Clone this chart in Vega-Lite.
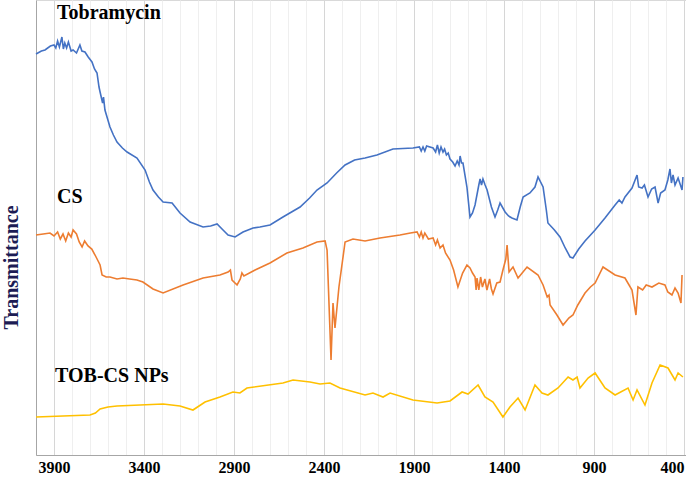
{
  "$schema": "https://vega.github.io/schema/vega-lite/v6.json",
  "width": 650,
  "height": 455,
  "autosize": {"type": "none"},
  "padding": {"left": 36, "top": 0, "right": 0, "bottom": 25},
  "background": "white",
  "config": {"view": {"stroke": "#d9d9d9"}, "font": "Liberation Serif"},
  "resolve": {"axis": {"x": "independent"}},
  "datasets": {
    "spectra": [
      {"s": "Tobramycin", "wn": 4000, "t": 401},
      {"s": "Tobramycin", "wn": 3970, "t": 404},
      {"s": "Tobramycin", "wn": 3950, "t": 405},
      {"s": "Tobramycin", "wn": 3920, "t": 409},
      {"s": "Tobramycin", "wn": 3900, "t": 410},
      {"s": "Tobramycin", "wn": 3890, "t": 407},
      {"s": "Tobramycin", "wn": 3880, "t": 414},
      {"s": "Tobramycin", "wn": 3870, "t": 408},
      {"s": "Tobramycin", "wn": 3856, "t": 418},
      {"s": "Tobramycin", "wn": 3848, "t": 406},
      {"s": "Tobramycin", "wn": 3840, "t": 412},
      {"s": "Tobramycin", "wn": 3830, "t": 407},
      {"s": "Tobramycin", "wn": 3820, "t": 413},
      {"s": "Tobramycin", "wn": 3805, "t": 404},
      {"s": "Tobramycin", "wn": 3794, "t": 405},
      {"s": "Tobramycin", "wn": 3775, "t": 402},
      {"s": "Tobramycin", "wn": 3756, "t": 410},
      {"s": "Tobramycin", "wn": 3745, "t": 404},
      {"s": "Tobramycin", "wn": 3728, "t": 403},
      {"s": "Tobramycin", "wn": 3710, "t": 398},
      {"s": "Tobramycin", "wn": 3689, "t": 393},
      {"s": "Tobramycin", "wn": 3675, "t": 386},
      {"s": "Tobramycin", "wn": 3661, "t": 382},
      {"s": "Tobramycin", "wn": 3650, "t": 368},
      {"s": "Tobramycin", "wn": 3644, "t": 363},
      {"s": "Tobramycin", "wn": 3630, "t": 352},
      {"s": "Tobramycin", "wn": 3625, "t": 358},
      {"s": "Tobramycin", "wn": 3617, "t": 345},
      {"s": "Tobramycin", "wn": 3589, "t": 328},
      {"s": "Tobramycin", "wn": 3570, "t": 320},
      {"s": "Tobramycin", "wn": 3550, "t": 313},
      {"s": "Tobramycin", "wn": 3520, "t": 307},
      {"s": "Tobramycin", "wn": 3494, "t": 303},
      {"s": "Tobramycin", "wn": 3439, "t": 297},
      {"s": "Tobramycin", "wn": 3394, "t": 285},
      {"s": "Tobramycin", "wn": 3370, "t": 273},
      {"s": "Tobramycin", "wn": 3350, "t": 265},
      {"s": "Tobramycin", "wn": 3320, "t": 258},
      {"s": "Tobramycin", "wn": 3294, "t": 253},
      {"s": "Tobramycin", "wn": 3244, "t": 252},
      {"s": "Tobramycin", "wn": 3200, "t": 242},
      {"s": "Tobramycin", "wn": 3144, "t": 233},
      {"s": "Tobramycin", "wn": 3072, "t": 228},
      {"s": "Tobramycin", "wn": 3030, "t": 229},
      {"s": "Tobramycin", "wn": 2994, "t": 231},
      {"s": "Tobramycin", "wn": 2961, "t": 225},
      {"s": "Tobramycin", "wn": 2933, "t": 220},
      {"s": "Tobramycin", "wn": 2894, "t": 218},
      {"s": "Tobramycin", "wn": 2850, "t": 223},
      {"s": "Tobramycin", "wn": 2794, "t": 227},
      {"s": "Tobramycin", "wn": 2756, "t": 228},
      {"s": "Tobramycin", "wn": 2700, "t": 230},
      {"s": "Tobramycin", "wn": 2628, "t": 238},
      {"s": "Tobramycin", "wn": 2533, "t": 248},
      {"s": "Tobramycin", "wn": 2480, "t": 257},
      {"s": "Tobramycin", "wn": 2439, "t": 265},
      {"s": "Tobramycin", "wn": 2383, "t": 272},
      {"s": "Tobramycin", "wn": 2330, "t": 282},
      {"s": "Tobramycin", "wn": 2283, "t": 290},
      {"s": "Tobramycin", "wn": 2230, "t": 295},
      {"s": "Tobramycin", "wn": 2172, "t": 297},
      {"s": "Tobramycin", "wn": 2106, "t": 300},
      {"s": "Tobramycin", "wn": 2017, "t": 306},
      {"s": "Tobramycin", "wn": 1906, "t": 307},
      {"s": "Tobramycin", "wn": 1870, "t": 308},
      {"s": "Tobramycin", "wn": 1860, "t": 304},
      {"s": "Tobramycin", "wn": 1850, "t": 308},
      {"s": "Tobramycin", "wn": 1840, "t": 304},
      {"s": "Tobramycin", "wn": 1830, "t": 309},
      {"s": "Tobramycin", "wn": 1794, "t": 307},
      {"s": "Tobramycin", "wn": 1780, "t": 303},
      {"s": "Tobramycin", "wn": 1770, "t": 310},
      {"s": "Tobramycin", "wn": 1760, "t": 302},
      {"s": "Tobramycin", "wn": 1750, "t": 308},
      {"s": "Tobramycin", "wn": 1739, "t": 303},
      {"s": "Tobramycin", "wn": 1730, "t": 306},
      {"s": "Tobramycin", "wn": 1720, "t": 300},
      {"s": "Tobramycin", "wn": 1710, "t": 302},
      {"s": "Tobramycin", "wn": 1700, "t": 296},
      {"s": "Tobramycin", "wn": 1685, "t": 293},
      {"s": "Tobramycin", "wn": 1672, "t": 289},
      {"s": "Tobramycin", "wn": 1660, "t": 294},
      {"s": "Tobramycin", "wn": 1650, "t": 290},
      {"s": "Tobramycin", "wn": 1644, "t": 299},
      {"s": "Tobramycin", "wn": 1636, "t": 292},
      {"s": "Tobramycin", "wn": 1628, "t": 292},
      {"s": "Tobramycin", "wn": 1606, "t": 268},
      {"s": "Tobramycin", "wn": 1589, "t": 238},
      {"s": "Tobramycin", "wn": 1575, "t": 242},
      {"s": "Tobramycin", "wn": 1561, "t": 250},
      {"s": "Tobramycin", "wn": 1540, "t": 270},
      {"s": "Tobramycin", "wn": 1533, "t": 276},
      {"s": "Tobramycin", "wn": 1525, "t": 270},
      {"s": "Tobramycin", "wn": 1517, "t": 276},
      {"s": "Tobramycin", "wn": 1505, "t": 270},
      {"s": "Tobramycin", "wn": 1494, "t": 265},
      {"s": "Tobramycin", "wn": 1470, "t": 248},
      {"s": "Tobramycin", "wn": 1450, "t": 238},
      {"s": "Tobramycin", "wn": 1435, "t": 245},
      {"s": "Tobramycin", "wn": 1422, "t": 252},
      {"s": "Tobramycin", "wn": 1394, "t": 243},
      {"s": "Tobramycin", "wn": 1375, "t": 239},
      {"s": "Tobramycin", "wn": 1356, "t": 237},
      {"s": "Tobramycin", "wn": 1328, "t": 235},
      {"s": "Tobramycin", "wn": 1310, "t": 248},
      {"s": "Tobramycin", "wn": 1294, "t": 258},
      {"s": "Tobramycin", "wn": 1256, "t": 262},
      {"s": "Tobramycin", "wn": 1228, "t": 268},
      {"s": "Tobramycin", "wn": 1211, "t": 278},
      {"s": "Tobramycin", "wn": 1183, "t": 268},
      {"s": "Tobramycin", "wn": 1165, "t": 245},
      {"s": "Tobramycin", "wn": 1156, "t": 232},
      {"s": "Tobramycin", "wn": 1120, "t": 225},
      {"s": "Tobramycin", "wn": 1089, "t": 218},
      {"s": "Tobramycin", "wn": 1060, "t": 207},
      {"s": "Tobramycin", "wn": 1033, "t": 198},
      {"s": "Tobramycin", "wn": 1017, "t": 197},
      {"s": "Tobramycin", "wn": 985, "t": 206},
      {"s": "Tobramycin", "wn": 950, "t": 214},
      {"s": "Tobramycin", "wn": 894, "t": 225},
      {"s": "Tobramycin", "wn": 839, "t": 237},
      {"s": "Tobramycin", "wn": 783, "t": 250},
      {"s": "Tobramycin", "wn": 760, "t": 255},
      {"s": "Tobramycin", "wn": 745, "t": 252},
      {"s": "Tobramycin", "wn": 728, "t": 258},
      {"s": "Tobramycin", "wn": 689, "t": 267},
      {"s": "Tobramycin", "wn": 661, "t": 280},
      {"s": "Tobramycin", "wn": 652, "t": 268},
      {"s": "Tobramycin", "wn": 633, "t": 267},
      {"s": "Tobramycin", "wn": 620, "t": 270},
      {"s": "Tobramycin", "wn": 600, "t": 258},
      {"s": "Tobramycin", "wn": 580, "t": 266},
      {"s": "Tobramycin", "wn": 561, "t": 268},
      {"s": "Tobramycin", "wn": 544, "t": 252},
      {"s": "Tobramycin", "wn": 530, "t": 262},
      {"s": "Tobramycin", "wn": 506, "t": 265},
      {"s": "Tobramycin", "wn": 490, "t": 275},
      {"s": "Tobramycin", "wn": 478, "t": 286},
      {"s": "Tobramycin", "wn": 470, "t": 272},
      {"s": "Tobramycin", "wn": 461, "t": 280},
      {"s": "Tobramycin", "wn": 450, "t": 270},
      {"s": "Tobramycin", "wn": 433, "t": 277},
      {"s": "Tobramycin", "wn": 420, "t": 270},
      {"s": "Tobramycin", "wn": 411, "t": 265},
      {"s": "Tobramycin", "wn": 406, "t": 278},
      {"s": "CS", "wn": 4000, "t": 220},
      {"s": "CS", "wn": 3960, "t": 221},
      {"s": "CS", "wn": 3922, "t": 222},
      {"s": "CS", "wn": 3900, "t": 219},
      {"s": "CS", "wn": 3880, "t": 223},
      {"s": "CS", "wn": 3865, "t": 216},
      {"s": "CS", "wn": 3850, "t": 221},
      {"s": "CS", "wn": 3835, "t": 214},
      {"s": "CS", "wn": 3820, "t": 222},
      {"s": "CS", "wn": 3805, "t": 218},
      {"s": "CS", "wn": 3794, "t": 225},
      {"s": "CS", "wn": 3775, "t": 221},
      {"s": "CS", "wn": 3760, "t": 213},
      {"s": "CS", "wn": 3744, "t": 208},
      {"s": "CS", "wn": 3730, "t": 214},
      {"s": "CS", "wn": 3711, "t": 209},
      {"s": "CS", "wn": 3690, "t": 206},
      {"s": "CS", "wn": 3672, "t": 200},
      {"s": "CS", "wn": 3655, "t": 194},
      {"s": "CS", "wn": 3644, "t": 190},
      {"s": "CS", "wn": 3633, "t": 180},
      {"s": "CS", "wn": 3610, "t": 178},
      {"s": "CS", "wn": 3589, "t": 178},
      {"s": "CS", "wn": 3550, "t": 176},
      {"s": "CS", "wn": 3517, "t": 177},
      {"s": "CS", "wn": 3480, "t": 176},
      {"s": "CS", "wn": 3439, "t": 175},
      {"s": "CS", "wn": 3406, "t": 173},
      {"s": "CS", "wn": 3350, "t": 166},
      {"s": "CS", "wn": 3294, "t": 162},
      {"s": "CS", "wn": 3183, "t": 170},
      {"s": "CS", "wn": 3072, "t": 177},
      {"s": "CS", "wn": 2978, "t": 180},
      {"s": "CS", "wn": 2933, "t": 183},
      {"s": "CS", "wn": 2920, "t": 185},
      {"s": "CS", "wn": 2911, "t": 175},
      {"s": "CS", "wn": 2883, "t": 170},
      {"s": "CS", "wn": 2865, "t": 176},
      {"s": "CS", "wn": 2856, "t": 182},
      {"s": "CS", "wn": 2845, "t": 179},
      {"s": "CS", "wn": 2783, "t": 185},
      {"s": "CS", "wn": 2700, "t": 192},
      {"s": "CS", "wn": 2606, "t": 202},
      {"s": "CS", "wn": 2517, "t": 207},
      {"s": "CS", "wn": 2439, "t": 213},
      {"s": "CS", "wn": 2394, "t": 214},
      {"s": "CS", "wn": 2383, "t": 205},
      {"s": "CS", "wn": 2361, "t": 95},
      {"s": "CS", "wn": 2350, "t": 152},
      {"s": "CS", "wn": 2339, "t": 127},
      {"s": "CS", "wn": 2317, "t": 168},
      {"s": "CS", "wn": 2283, "t": 213},
      {"s": "CS", "wn": 2239, "t": 216},
      {"s": "CS", "wn": 2172, "t": 214},
      {"s": "CS", "wn": 2089, "t": 217},
      {"s": "CS", "wn": 1978, "t": 220},
      {"s": "CS", "wn": 1920, "t": 222},
      {"s": "CS", "wn": 1883, "t": 223},
      {"s": "CS", "wn": 1870, "t": 218},
      {"s": "CS", "wn": 1860, "t": 223},
      {"s": "CS", "wn": 1850, "t": 217},
      {"s": "CS", "wn": 1840, "t": 222},
      {"s": "CS", "wn": 1820, "t": 216},
      {"s": "CS", "wn": 1794, "t": 217},
      {"s": "CS", "wn": 1780, "t": 210},
      {"s": "CS", "wn": 1770, "t": 215},
      {"s": "CS", "wn": 1755, "t": 207},
      {"s": "CS", "wn": 1739, "t": 210},
      {"s": "CS", "wn": 1725, "t": 202},
      {"s": "CS", "wn": 1700, "t": 195},
      {"s": "CS", "wn": 1680, "t": 185},
      {"s": "CS", "wn": 1656, "t": 168},
      {"s": "CS", "wn": 1630, "t": 182},
      {"s": "CS", "wn": 1606, "t": 190},
      {"s": "CS", "wn": 1589, "t": 187},
      {"s": "CS", "wn": 1575, "t": 182},
      {"s": "CS", "wn": 1561, "t": 178},
      {"s": "CS", "wn": 1555, "t": 165},
      {"s": "CS", "wn": 1550, "t": 177},
      {"s": "CS", "wn": 1540, "t": 165},
      {"s": "CS", "wn": 1530, "t": 178},
      {"s": "CS", "wn": 1520, "t": 168},
      {"s": "CS", "wn": 1506, "t": 176},
      {"s": "CS", "wn": 1495, "t": 165},
      {"s": "CS", "wn": 1480, "t": 176},
      {"s": "CS", "wn": 1470, "t": 166},
      {"s": "CS", "wn": 1461, "t": 161},
      {"s": "CS", "wn": 1440, "t": 172},
      {"s": "CS", "wn": 1422, "t": 173},
      {"s": "CS", "wn": 1406, "t": 185},
      {"s": "CS", "wn": 1390, "t": 196},
      {"s": "CS", "wn": 1383, "t": 210},
      {"s": "CS", "wn": 1372, "t": 183},
      {"s": "CS", "wn": 1350, "t": 188},
      {"s": "CS", "wn": 1322, "t": 177},
      {"s": "CS", "wn": 1272, "t": 188},
      {"s": "CS", "wn": 1211, "t": 180},
      {"s": "CS", "wn": 1183, "t": 170},
      {"s": "CS", "wn": 1160, "t": 158},
      {"s": "CS", "wn": 1150, "t": 160},
      {"s": "CS", "wn": 1144, "t": 150},
      {"s": "CS", "wn": 1106, "t": 140},
      {"s": "CS", "wn": 1072, "t": 130},
      {"s": "CS", "wn": 1040, "t": 137},
      {"s": "CS", "wn": 1017, "t": 140},
      {"s": "CS", "wn": 990, "t": 150},
      {"s": "CS", "wn": 950, "t": 162},
      {"s": "CS", "wn": 920, "t": 168},
      {"s": "CS", "wn": 894, "t": 172},
      {"s": "CS", "wn": 850, "t": 188},
      {"s": "CS", "wn": 783, "t": 180},
      {"s": "CS", "wn": 728, "t": 177},
      {"s": "CS", "wn": 689, "t": 165},
      {"s": "CS", "wn": 667, "t": 140},
      {"s": "CS", "wn": 656, "t": 168},
      {"s": "CS", "wn": 630, "t": 165},
      {"s": "CS", "wn": 610, "t": 170},
      {"s": "CS", "wn": 578, "t": 168},
      {"s": "CS", "wn": 540, "t": 172},
      {"s": "CS", "wn": 506, "t": 170},
      {"s": "CS", "wn": 490, "t": 163},
      {"s": "CS", "wn": 467, "t": 160},
      {"s": "CS", "wn": 450, "t": 167},
      {"s": "CS", "wn": 433, "t": 162},
      {"s": "CS", "wn": 417, "t": 152},
      {"s": "CS", "wn": 411, "t": 180},
      {"s": "TOB-CS NPs", "wn": 4000, "t": 38},
      {"s": "TOB-CS NPs", "wn": 3700, "t": 40},
      {"s": "TOB-CS NPs", "wn": 3670, "t": 42},
      {"s": "TOB-CS NPs", "wn": 3644, "t": 46},
      {"s": "TOB-CS NPs", "wn": 3600, "t": 48},
      {"s": "TOB-CS NPs", "wn": 3550, "t": 49},
      {"s": "TOB-CS NPs", "wn": 3294, "t": 51},
      {"s": "TOB-CS NPs", "wn": 3200, "t": 49},
      {"s": "TOB-CS NPs", "wn": 3128, "t": 45},
      {"s": "TOB-CS NPs", "wn": 3061, "t": 53},
      {"s": "TOB-CS NPs", "wn": 2978, "t": 58},
      {"s": "TOB-CS NPs", "wn": 2906, "t": 63},
      {"s": "TOB-CS NPs", "wn": 2867, "t": 62},
      {"s": "TOB-CS NPs", "wn": 2828, "t": 67},
      {"s": "TOB-CS NPs", "wn": 2628, "t": 72},
      {"s": "TOB-CS NPs", "wn": 2572, "t": 75},
      {"s": "TOB-CS NPs", "wn": 2478, "t": 73},
      {"s": "TOB-CS NPs", "wn": 2422, "t": 71},
      {"s": "TOB-CS NPs", "wn": 2367, "t": 72},
      {"s": "TOB-CS NPs", "wn": 2311, "t": 67},
      {"s": "TOB-CS NPs", "wn": 2172, "t": 60},
      {"s": "TOB-CS NPs", "wn": 2128, "t": 62},
      {"s": "TOB-CS NPs", "wn": 2072, "t": 58},
      {"s": "TOB-CS NPs", "wn": 2033, "t": 62},
      {"s": "TOB-CS NPs", "wn": 1906, "t": 55},
      {"s": "TOB-CS NPs", "wn": 1772, "t": 52},
      {"s": "TOB-CS NPs", "wn": 1700, "t": 54},
      {"s": "TOB-CS NPs", "wn": 1633, "t": 63},
      {"s": "TOB-CS NPs", "wn": 1600, "t": 61},
      {"s": "TOB-CS NPs", "wn": 1544, "t": 70},
      {"s": "TOB-CS NPs", "wn": 1506, "t": 58},
      {"s": "TOB-CS NPs", "wn": 1461, "t": 53},
      {"s": "TOB-CS NPs", "wn": 1406, "t": 38},
      {"s": "TOB-CS NPs", "wn": 1367, "t": 48},
      {"s": "TOB-CS NPs", "wn": 1322, "t": 57},
      {"s": "TOB-CS NPs", "wn": 1283, "t": 45},
      {"s": "TOB-CS NPs", "wn": 1228, "t": 70},
      {"s": "TOB-CS NPs", "wn": 1189, "t": 62},
      {"s": "TOB-CS NPs", "wn": 1156, "t": 60},
      {"s": "TOB-CS NPs", "wn": 1100, "t": 67},
      {"s": "TOB-CS NPs", "wn": 1044, "t": 78},
      {"s": "TOB-CS NPs", "wn": 1017, "t": 75},
      {"s": "TOB-CS NPs", "wn": 994, "t": 78},
      {"s": "TOB-CS NPs", "wn": 978, "t": 67},
      {"s": "TOB-CS NPs", "wn": 933, "t": 77},
      {"s": "TOB-CS NPs", "wn": 894, "t": 82},
      {"s": "TOB-CS NPs", "wn": 839, "t": 67},
      {"s": "TOB-CS NPs", "wn": 783, "t": 60},
      {"s": "TOB-CS NPs", "wn": 711, "t": 67},
      {"s": "TOB-CS NPs", "wn": 683, "t": 55},
      {"s": "TOB-CS NPs", "wn": 661, "t": 65},
      {"s": "TOB-CS NPs", "wn": 617, "t": 50},
      {"s": "TOB-CS NPs", "wn": 578, "t": 72},
      {"s": "TOB-CS NPs", "wn": 533, "t": 90},
      {"s": "TOB-CS NPs", "wn": 489, "t": 87},
      {"s": "TOB-CS NPs", "wn": 450, "t": 75},
      {"s": "TOB-CS NPs", "wn": 433, "t": 82},
      {"s": "TOB-CS NPs", "wn": 406, "t": 78}
    ],
    "labels": [
      {"label": "Tobramycin", "wn": 3883, "t": 442},
      {"label": "CS", "wn": 3883, "t": 258},
      {"label": "TOB-CS NPs", "wn": 3894, "t": 79}
    ]
  },
  "layer": [
    {
      "data": {"name": "spectra"},
      "mark": {"type": "line", "strokeWidth": 1.6, "interpolate": "linear"},
      "encoding": {
        "x": {
          "field": "wn",
          "type": "quantitative",
          "scale": {"domain": [389, 4000], "reverse": true, "nice": false, "zero": false},
          "axis": {
            "title": null,
            "values": [400, 900, 1400, 1900, 2400, 2900, 3400, 3900],
            "format": "d",
            "ticks": false,
            "labelPadding": 4,
            "labelFont": "Liberation Serif",
            "labelFontWeight": "bold",
            "labelFontSize": 16,
            "labelColor": "#000000",
            "labelOverlap": false,
            "labelFlush": 5,
            "grid": true,
            "gridColor": "#d6d6d6",
            "gridWidth": 1,
            "domainColor": "#a6a6a6",
            "domainWidth": 1
          }
        },
        "y": {
          "field": "t",
          "type": "quantitative",
          "scale": {"domain": [0, 455], "nice": false},
          "axis": {
            "title": "Transmittance",
            "labels": false,
            "ticks": false,
            "grid": false,
            "domainColor": "#a6a6a6",
            "titleFont": "Liberation Serif",
            "titleFontWeight": "bold",
            "titleFontSize": 20,
            "titleColor": "#1c1c54",
            "titleAngle": -90,
            "titleX": -25,
            "titleY": 267,
            "titleAlign": "center",
            "titleBaseline": "middle"
          }
        },
        "color": {
          "field": "s",
          "type": "nominal",
          "scale": {"domain": ["Tobramycin", "CS", "TOB-CS NPs"], "range": ["#4472C4", "#ED7D31", "#FFC000"]},
          "legend": null
        },
        "detail": {"field": "s"}
      }
    },
    {
      "data": {"name": "labels"},
      "mark": {"type": "text", "align": "left", "baseline": "middle", "font": "Liberation Serif", "fontWeight": "bold", "fontSize": 20, "color": "#000000"},
      "encoding": {
        "x": {
          "field": "wn",
          "type": "quantitative",
          "axis": {
            "orient": "top",
            "title": null,
            "values": [500, 600, 700, 800, 1000, 1100, 1200, 1300, 1500, 1600, 1700, 1800, 2000, 2100, 2200, 2300, 2500, 2600, 2700, 2800, 3000, 3100, 3200, 3300, 3500, 3600, 3700, 3800],
            "labels": false,
            "ticks": false,
            "domain": false,
            "grid": true,
            "gridColor": "#efefef",
            "gridWidth": 1
          }
        },
        "y": {"field": "t", "type": "quantitative"},
        "text": {"field": "label"}
      }
    }
  ]
}
